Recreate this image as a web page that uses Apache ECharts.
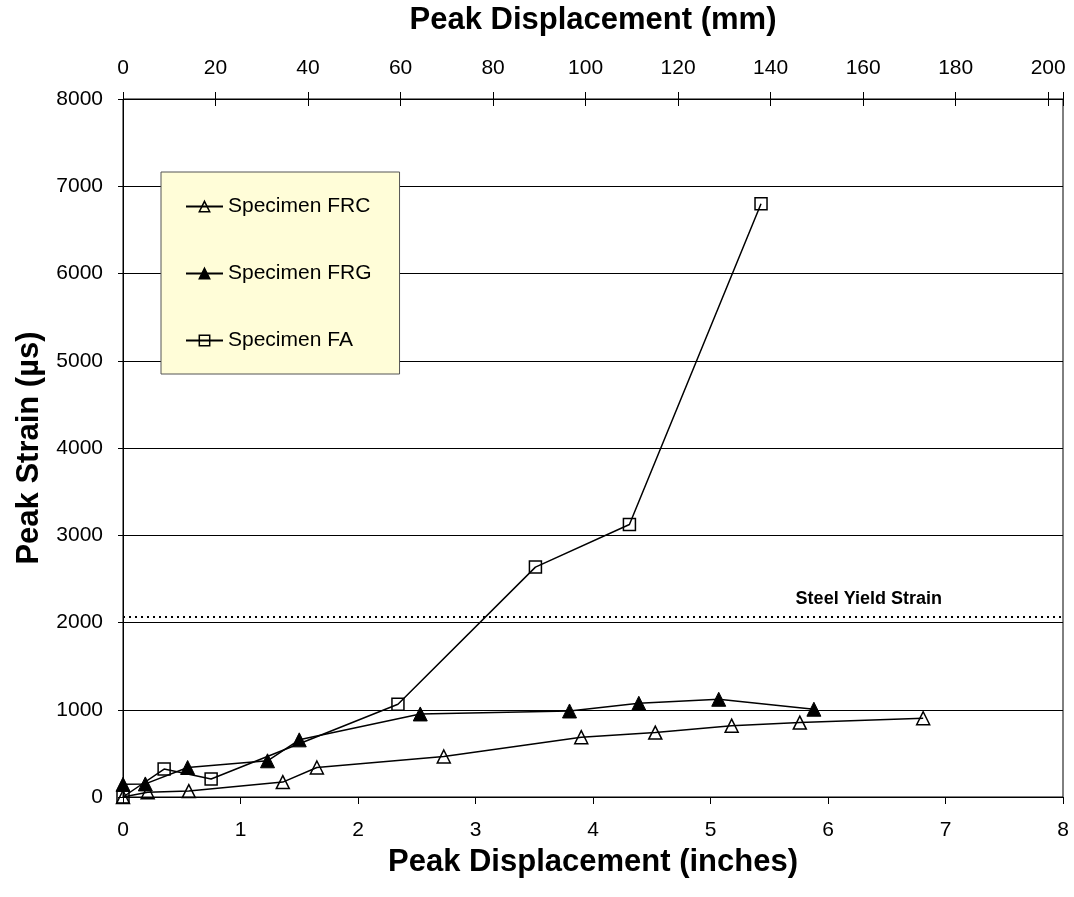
<!DOCTYPE html>
<html>
<head>
<meta charset="utf-8">
<title>Peak Strain vs Peak Displacement</title>
<script src="https://cdn.jsdelivr.net/npm/echarts@6/dist/echarts.min.js"></script>
<style>
  html, body { margin: 0; padding: 0; background: #fff; }
  #chart { width: 1074px; height: 897px; }
</style>
</head>
<body>
<div id="chart"></div>
<script>
// data (inches / microstrain)
var frcX = [0, 0.21, 0.56, 1.36, 1.65, 2.73, 3.90, 4.53, 5.18, 5.76, 6.81];
var frcY = [0, 55, 68, 171, 338, 464, 686, 738, 818, 853, 903];

var frgX = [0, 0.19, 0.55, 1.23, 1.50, 2.53, 3.80, 4.39, 5.07, 5.88];
var frgY = [145, 150, 338, 415, 655, 952, 986, 1074, 1120, 1006];

var faX = [0, 0.35, 0.75, 2.34, 3.51, 4.31, 5.43];
var faY = [0, 320, 206, 1063, 2635, 3123, 6800];

var seriesNames = ['Specimen FRC', 'Specimen FRG', 'Specimen FA'];
var yieldStrain = 2070;
var yieldLabel = 'Steel Yield Strain';

var FONT = 'Liberation Sans, Arial, sans-serif';

function pairs(xs, ys) {
  var out = [];
  for (var i = 0; i < xs.length; i++) {
    out.push([xs[i], ys[i]]);
  }
  return out;
}

var chart = echarts.init(document.getElementById('chart'), null, { renderer: 'canvas' });

var lineBase = {
  type: 'line',
  xAxisIndex: 0,
  yAxisIndex: 0,
  color: '#000',
  lineStyle: { color: '#000', width: 1.5 },
  emphasis: { disabled: true },
  animation: false
};

var option = {
  backgroundColor: '#fff',
  animation: false,
  textStyle: { fontFamily: FONT },
  grid: {
    left: 123,
    right: 11,
    top: 97,
    bottom: 100,
    show: true,
    borderColor: '#000',
    borderWidth: 1,
    backgroundColor: 'transparent'
  },
  legend: {
    data: seriesNames,
    orient: 'vertical',
    left: 161,
    top: 172,
    backgroundColor: '#FFFDD8',
    borderColor: '#555',
    borderWidth: 1,
    borderRadius: 0,
    padding: [24, 28, 23, 24],
    itemGap: 46,
    itemWidth: 37,
    itemHeight: 13,
    itemStyle: { borderWidth: 1.5 },
    selectedMode: false,
    textStyle: { fontSize: 21, color: '#000', fontFamily: FONT }
  },
  xAxis: [
    {
      // bottom axis, inches
      type: 'value',
      position: 'bottom',
      min: 0,
      max: 8,
      interval: 1,
      name: 'Peak Displacement (inches)',
      nameLocation: 'middle',
      nameGap: 50,
      nameTextStyle: { fontSize: 31, fontWeight: 'bold', color: '#000', fontFamily: FONT },
      axisLine: { show: true, onZero: false, lineStyle: { color: '#000', width: 1 } },
      axisTick: { show: true, inside: false, length: 7, lineStyle: { color: '#000' } },
      axisLabel: { fontSize: 21, color: '#000', margin: 23, fontFamily: FONT },
      splitLine: { show: false }
    },
    {
      // top axis, mm
      type: 'value',
      position: 'top',
      min: 0,
      max: 203.2,
      interval: 20,
      name: 'Peak Displacement (mm)',
      nameLocation: 'middle',
      nameGap: 63,
      nameTextStyle: { fontSize: 31, fontWeight: 'bold', color: '#000', fontFamily: FONT },
      axisLine: { show: true, onZero: false, lineStyle: { color: '#000', width: 1 } },
      axisTick: { show: true, inside: false, length: 7, lineStyle: { color: '#000' } },
      axisLabel: {
        fontSize: 21, color: '#000', margin: 20, fontFamily: FONT,
        formatter: function (v) { return Math.abs(v % 20) < 1e-6 ? String(v) : ''; }
      },
      splitLine: { show: false }
    },
    {
      // inner half of the top cross ticks
      type: 'value',
      position: 'top',
      min: 0,
      max: 203.2,
      interval: 20,
      axisLine: { show: false, onZero: false },
      axisTick: { show: true, inside: true, length: 7, lineStyle: { color: '#000' } },
      axisLabel: { show: false },
      splitLine: { show: false }
    }
  ],
  yAxis: [
    {
      type: 'value',
      position: 'left',
      offset: 0,
      min: 0,
      max: 8000,
      interval: 1000,
      name: 'Peak Strain (µs)',
      nameLocation: 'middle',
      nameGap: 72,
      nameTextStyle: { fontSize: 31, fontWeight: 'bold', color: '#000', fontFamily: FONT },
      axisLine: { show: true, onZero: false, lineStyle: { color: '#000', width: 1 } },
      axisTick: { show: true, inside: false, length: 5, lineStyle: { color: '#000' } },
      axisLabel: {
        fontSize: 21, color: '#000', margin: 20, fontFamily: FONT,
        formatter: function (v) { return String(v); }
      },
      splitLine: { show: true, lineStyle: { color: '#000', width: 1 } }
    },
    {
      // inner half of the left cross ticks
      type: 'value',
      position: 'left',
      offset: 0,
      min: 0,
      max: 8000,
      interval: 1000,
      axisLine: { show: false, onZero: false },
      axisTick: { show: true, inside: true, length: 5, lineStyle: { color: '#000' } },
      axisLabel: { show: false },
      splitLine: { show: false }
    }
  ],
  series: [
    Object.assign({}, lineBase, {
      name: seriesNames[0],
      data: pairs(frcX, frcY),
      symbol: 'triangle',
      symbolSize: 13,
      itemStyle: { color: 'rgba(0,0,0,0)', borderColor: '#000', borderWidth: 1.5 }
    }),
    Object.assign({}, lineBase, {
      name: seriesNames[1],
      data: pairs(frgX, frgY),
      symbol: 'triangle',
      symbolSize: 14,
      itemStyle: { color: '#000', borderColor: '#000', borderWidth: 1 }
    }),
    Object.assign({}, lineBase, {
      name: seriesNames[2],
      data: pairs(faX, faY),
      symbol: 'rect',
      symbolSize: 12,
      itemStyle: { color: 'rgba(0,0,0,0)', borderColor: '#000', borderWidth: 1.5 },
      markLine: {
        silent: true,
        animation: false,
        symbol: ['none', 'none'],
        lineStyle: { type: [2, 4], color: '#000', width: 2 },
        label: {
          show: true,
          position: 'insideEndTop',
          distance: [121, 8],
          formatter: yieldLabel,
          fontSize: 18,
          fontWeight: 'bold',
          color: '#000',
          fontFamily: FONT
        },
        emphasis: { disabled: true },
        data: [{ yAxis: yieldStrain }]
      }
    })
  ]
};

chart.setOption(option);
</script>
</body>
</html>
